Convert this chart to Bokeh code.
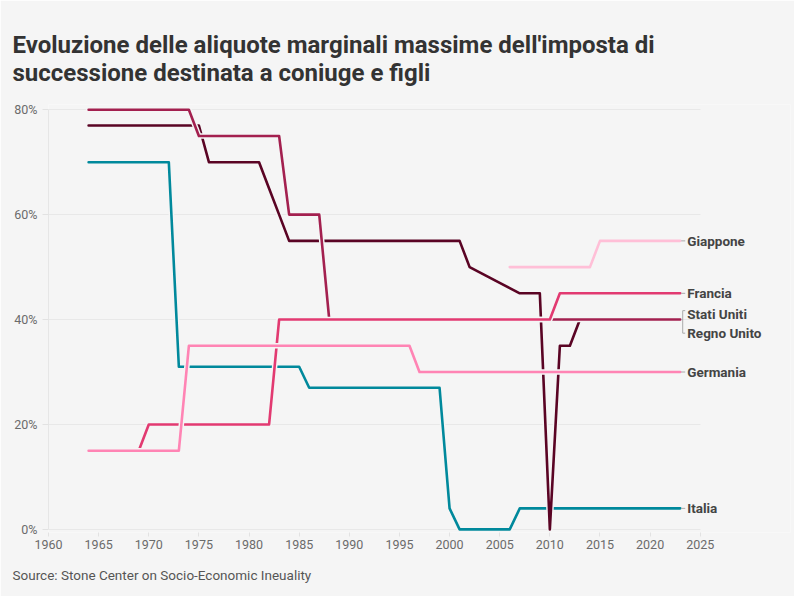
from bokeh.plotting import figure
from bokeh.models import Range1d, FixedTicker, PrintfTickFormatter, Title, Label, ColumnDataSource, Grid
from bokeh.embed import file_html
from bokeh.resources import INLINE

# ---- data (top marginal inheritance tax rates, spouse & children, %) ----
us_years = [1964, 1975, 1976, 1981, 1982, 1983, 1984, 2001, 2002, 2003, 2004, 2005, 2006, 2007, 2009, 2010, 2011, 2012, 2013, 2023]
us_rates = [77, 77, 70, 70, 65, 60, 55, 55, 50, 49, 48, 47, 46, 45, 45, 0, 35, 35, 40, 40]
uk_years = [1964, 1974, 1975, 1983, 1984, 1987, 1988, 2023]
uk_rates = [80, 80, 75, 75, 60, 60, 40, 40]
fr_years = [1964, 1969, 1970, 1982, 1983, 2010, 2011, 2023]
fr_rates = [15, 15, 20, 20, 40, 40, 45, 45]
de_years = [1964, 1973, 1974, 1996, 1997, 2023]
de_rates = [15, 15, 35, 35, 30, 30]
jp_years = [2006, 2014, 2015, 2023]
jp_rates = [50, 50, 55, 55]
it_years = [1964, 1972, 1973, 1985, 1986, 1999, 2000, 2001, 2006, 2007, 2023]
it_rates = [70, 70, 31, 31, 27, 27, 4, 0, 0, 4, 4]

x_ticks = [1960, 1965, 1970, 1975, 1980, 1985, 1990, 1995, 2000, 2005, 2010, 2015, 2020, 2025]
y_ticks = [0, 20, 40, 60, 80]

single_labels = ["Giappone", "Francia", "Germania", "Italia"]
single_values = [55, 45, 30, 4]
pair_labels = ["Stati Uniti", "Regno Unito"]
pair_value = 40
last_year = 2023

title_line1 = "Evoluzione delle aliquote marginali massime dell'imposta di"
title_line2 = "successione destinata a coniuge e figli"
source_text = "Source: Stone Center on Socio-Economic Ineuality"

# ---- styling ----
BG = "#f5f5f5"
FONT = "Roboto"
colors = {
    "it": "#00899c",
    "us": "#5a0424",
    "uk": "#a3204f",
    "fr": "#e23a71",
    "de": "#ff84b4",
    "jp": "#ffbfd7",
}
X0, X1 = x_ticks[0], x_ticks[-1]

# the x range runs past the last tick so the end labels have room
p = figure(width=794, height=596, x_range=Range1d(X0, 2034), y_range=Range1d(-0.6, 81),
           output_backend="svg", toolbar_location=None,
           min_border_left=48, min_border_right=4, min_border_top=104, min_border_bottom=64)
p.background_fill_color = BG
p.border_fill_color = BG
p.outline_line_color = None

# axes
p.xaxis.ticker = FixedTicker(ticks=x_ticks)
p.xaxis.bounds = (X0, X1)
p.yaxis.ticker = FixedTicker(ticks=y_ticks)
p.yaxis.formatter = PrintfTickFormatter(format="%d%%")
for ax in (p.xaxis[0], p.yaxis[0]):
    ax.major_label_text_font = FONT
    ax.major_label_text_font_size = "12.5px"
    ax.major_label_text_color = "#6b6b6b"
    ax.minor_tick_line_color = None
    ax.major_tick_in = 0
    ax.major_tick_line_color = "#e2e2e2"
p.xaxis.axis_line_color = None
p.xaxis.major_tick_out = 4
p.xaxis.major_label_standoff = 3
p.yaxis.axis_line_color = "#e6e6e6"
p.yaxis.bounds = (y_ticks[0], y_ticks[-1])
p.yaxis.major_tick_out = 6
p.yaxis.major_label_standoff = 5
p.xgrid.grid_line_color = None
p.ygrid.ticker = FixedTicker(ticks=y_ticks)
if "cross_bounds" in Grid.properties():
    p.ygrid.grid_line_color = "#e8e8e8"
    p.ygrid.cross_bounds = (X0, X1)
else:
    p.ygrid.grid_line_color = None
    p.segment(x0=[X0] * len(y_ticks), y0=y_ticks, x1=[X1] * len(y_ticks), y1=y_ticks,
              line_color="#e8e8e8", line_width=1)

# lines (halo then colour)
series = [
    ("it", it_years, it_rates),
    ("us", us_years, us_rates),
    ("uk", uk_years, uk_rates),
    ("fr", fr_years, fr_rates),
    ("de", de_years, de_rates),
    ("jp", jp_years, jp_rates),
]
for key, xs, ys in series:
    p.line(xs, ys, line_color=BG, line_width=5.5, line_join="round", line_cap="round")
    p.line(xs, ys, line_color=colors[key], line_width=2.6, line_join="round", line_cap="round")

# connectors
conn_src = ColumnDataSource(dict(
    x0=[last_year + 0.1] * len(single_values), x1=[last_year + 0.5] * len(single_values),
    y=single_values))
p.segment(x0="x0", y0="y", x1="x1", y1="y", source=conn_src, line_color="#aaaaaa", line_width=1)
# bracket for the two overlapping series
p.segment(x0=[last_year + 0.1], y0=[pair_value], x1=[last_year + 0.25], y1=[pair_value],
          line_color="#aaaaaa", line_width=1)
p.line([last_year + 0.5, last_year + 0.25, last_year + 0.25, last_year + 0.5],
       [pair_value + 1.7, pair_value + 1.7, pair_value - 2.6, pair_value - 2.6],
       line_color="#aaaaaa", line_width=1)

# labels
def add_label(text, yv, yoff=0):
    p.add_layout(Label(x=last_year, y=yv, text=text, x_offset=7, y_offset=yoff,
                       text_font=FONT, text_font_size="13.5px", text_font_style="bold",
                       text_color="#444444", text_baseline="middle"))

for name, v in zip(single_labels, single_values):
    add_label(name, v)
for name, off in zip(pair_labels, [6, -13]):
    add_label(name, pair_value, off)

# titles
p.title.text = title_line1 + "\n" + title_line2
p.title.align = "left"
p.title.offset = -36
p.title.text_font = FONT
p.title.text_font_size = "24px"
p.title.text_font_style = "bold"
p.title.text_color = "#333333"
p.title.standoff = 36
p.add_layout(Title(text=source_text, align="left", offset=-36, text_font=FONT,
                   text_font_size="13.5px", text_font_style="normal", text_color="#555555",
                   standoff=27), "below")

open("out.html", "w").write(file_html(p, INLINE))
